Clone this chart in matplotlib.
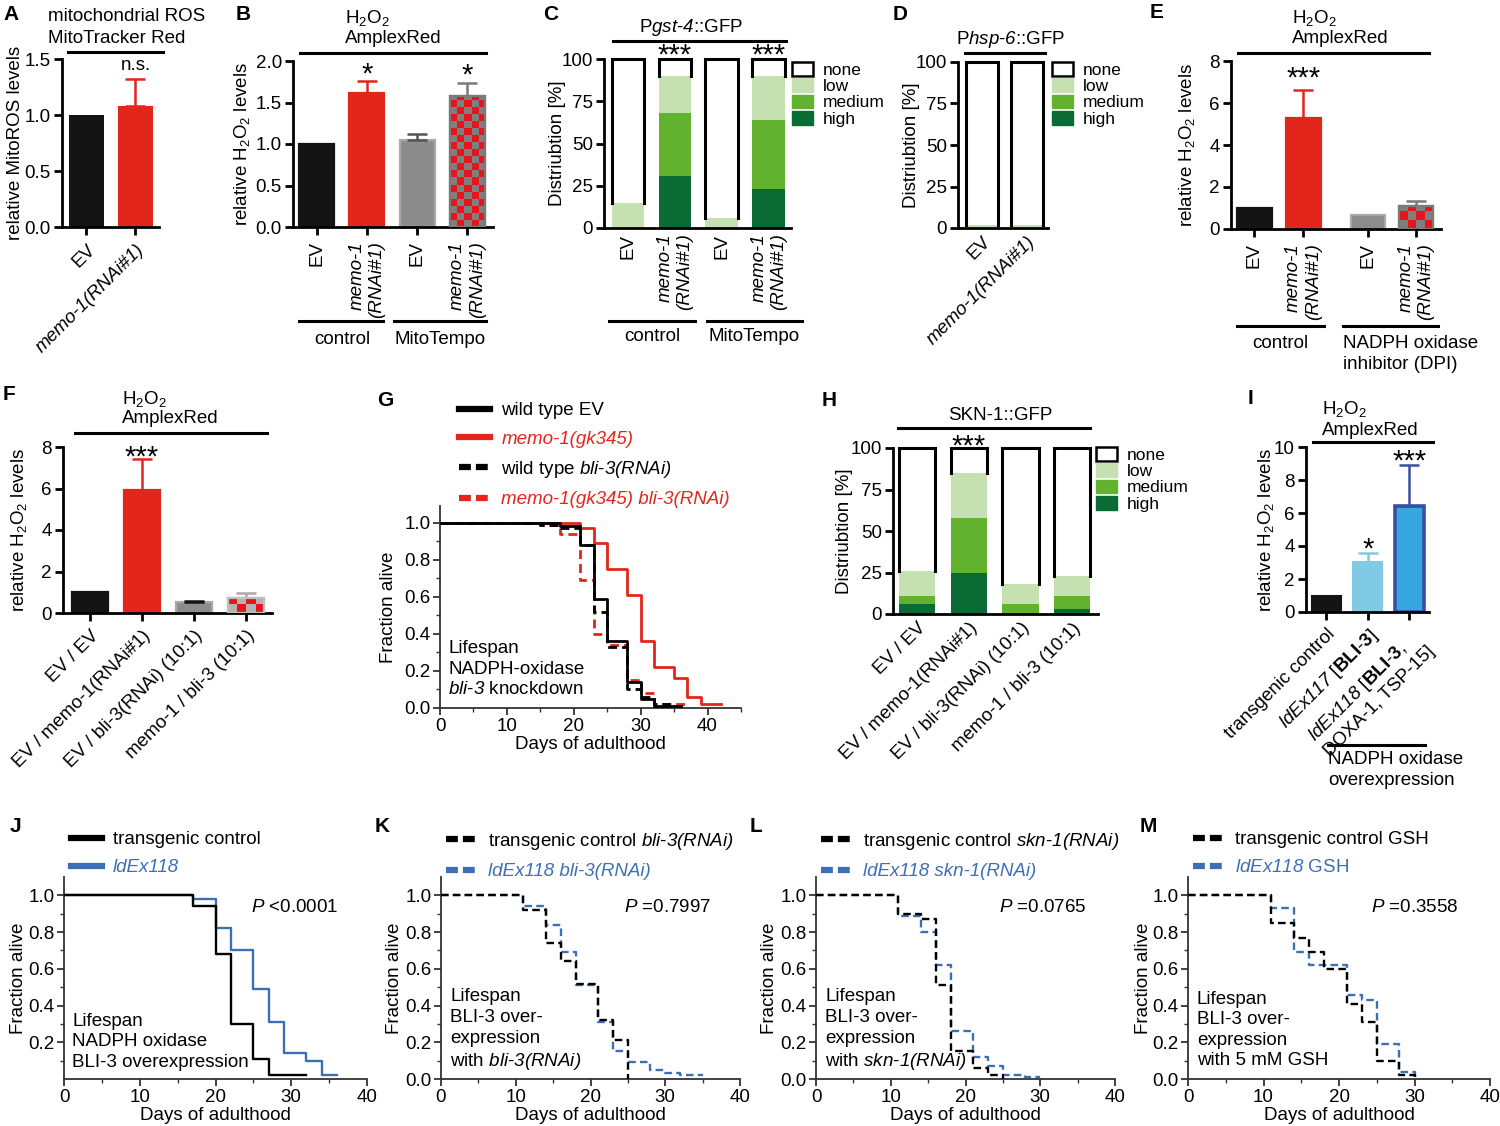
import matplotlib
matplotlib.use('Agg')
import matplotlib.pyplot as plt
import numpy as np
from matplotlib.colors import ListedColormap
from matplotlib.lines import Line2D
from matplotlib.patches import Patch

plt.rcParams['font.family'] = ['Liberation Sans', 'DejaVu Sans']
plt.rcParams['mathtext.fontset'] = 'custom'
plt.rcParams['mathtext.rm'] = 'Liberation Sans'
plt.rcParams['mathtext.it'] = 'Liberation Sans:italic'
plt.rcParams['mathtext.sf'] = 'Liberation Sans:italic'  # used for italic digits too
plt.rcParams['mathtext.bf'] = 'Liberation Sans:bold'
plt.rcParams['font.size'] = 13.5

W, H = 1500, 1126
RED = '#e2261b'
BLACK = '#141414'
GRAY = '#8c8c8c'
LOW, MED, HIGH = '#c5e0b1', '#62b22f', '#0b6b35'
BLUE = '#3d6fb6'
TICK = 13.5

# ---- data ----
# A
a_labels = ['EV', 'memo-1(RNAi#1)']
a_vals = [1.0, 1.08]
a_err = [0.0, 0.24]
# B
b_labels = ['EV', 'memo-1\n(RNAi#1)', 'EV', 'memo-1\n(RNAi#1)']
b_vals = [1.0, 1.62, 1.05, 1.58]
b_err = [0.0, 0.14, 0.07, 0.16]
b_sig = ['', '*', '', '*']
# C
c_labels = ['EV', 'memo-1\n(RNAi#1)', 'EV', 'memo-1\n(RNAi#1)']
c_high = [0, 31, 0, 23]
c_medium = [0, 37, 0, 41]
c_low = [15, 22, 6, 26]
c_sig = ['', '***', '', '***']
# D
d_labels = ['EV', 'memo-1(RNAi#1)']
d_high = [0, 0]
d_medium = [0, 0]
d_low = [2, 2]
# E
e_labels = ['EV', 'memo-1\n(RNAi#1)', 'EV', 'memo-1\n(RNAi#1)']
e_vals = [1.0, 5.3, 0.65, 1.1]
e_err = [0.0, 1.3, 0.0, 0.25]
e_sig = ['', '***', '', '']
# F
f_labels = ['EV / EV', 'EV / memo-1(RNAi#1)', 'EV / bli-3(RNAi) (10:1)', 'memo-1 / bli-3 (10:1)']
f_vals = [1.0, 5.95, 0.55, 0.72]
f_err = [0.0, 1.45, 0.02, 0.25]
f_sig = ['', '***', '', '']
# G
g_wt_days = [0, 18, 21, 23, 25, 28, 30, 32, 35]
g_wt_surv = [1.0, 0.98, 0.88, 0.59, 0.36, 0.14, 0.05, 0.01, 0.01]
g_memo_days = [0, 21, 23, 25, 28, 30, 32, 35, 37, 39, 42]
g_memo_surv = [1.0, 0.97, 0.89, 0.75, 0.61, 0.36, 0.22, 0.16, 0.06, 0.02, 0.02]
g_wtbli_days = [0, 15, 18, 21, 23, 25, 28, 30, 32, 35, 37]
g_wtbli_surv = [1.0, 0.99, 0.97, 0.88, 0.52, 0.33, 0.10, 0.06, 0.02, 0.01, 0.01]
g_memobli_days = [0, 15, 18, 21, 23, 25, 28, 30, 32, 37]
g_memobli_surv = [1.0, 0.99, 0.94, 0.69, 0.40, 0.34, 0.15, 0.08, 0.02, 0.02]
# H
h_labels = ['EV / EV', 'EV / memo-1(RNAi#1)', 'EV / bli-3(RNAi) (10:1)', 'memo-1 / bli-3 (10:1)']
h_high = [6, 25, 0, 3]
h_medium = [5, 33, 6, 8]
h_low = [15, 27, 12, 12]
h_sig = ['', '***', '', '']
# I
i_labels = ['transgenic control', r'$\mathsf{ldEx117}$ [$\mathbf{BLI}$-$\mathbf{3}$]',
            '$\\mathsf{ldEx118}$ [$\\mathbf{BLI}$-$\\mathbf{3}$,\nDOXA-1, TSP-15]']
i_vals = [1.0, 3.05, 6.45]
i_err = [0.0, 0.55, 2.45]
i_sig = ['', '*', '***']
# J
j_ctrl_days = [0, 17, 20, 22, 25, 27, 32]
j_ctrl_surv = [1.0, 0.94, 0.68, 0.30, 0.11, 0.02, 0.02]
j_ldex_days = [0, 17, 20, 22, 25, 27, 29, 32, 34, 36]
j_ldex_surv = [1.0, 0.98, 0.82, 0.70, 0.49, 0.31, 0.14, 0.10, 0.02, 0.02]
# K
k_ctrl_days = [0, 11, 14, 16, 18, 21, 23, 25]
k_ctrl_surv = [1.0, 0.92, 0.74, 0.64, 0.52, 0.32, 0.21, 0.0]
k_ldex_days = [0, 11, 14, 16, 18, 21, 23, 25, 28, 30, 32, 35]
k_ldex_surv = [1.0, 0.94, 0.84, 0.69, 0.51, 0.31, 0.15, 0.09, 0.05, 0.03, 0.02, 0.02]
# L
l_ctrl_days = [0, 11, 14, 16, 18, 21, 23, 25]
l_ctrl_surv = [1.0, 0.90, 0.87, 0.51, 0.15, 0.06, 0.02, 0.0]
l_ldex_days = [0, 11, 14, 16, 18, 21, 23, 25, 28, 30]
l_ldex_surv = [1.0, 0.89, 0.80, 0.62, 0.26, 0.12, 0.07, 0.02, 0.01, 0.01]
# M
m_ctrl_days = [0, 11, 14, 16, 18, 21, 23, 25, 28, 30]
m_ctrl_surv = [1.0, 0.85, 0.77, 0.69, 0.60, 0.41, 0.31, 0.10, 0.02, 0.0]
m_ldex_days = [0, 11, 14, 16, 21, 23, 25, 28, 30]
m_ldex_surv = [1.0, 0.93, 0.69, 0.62, 0.46, 0.43, 0.19, 0.04, 0.0]

fig = plt.figure(figsize=(15, 11.26), dpi=100)


def add_ax(l, t, r, b):
    ax = fig.add_axes([l / W, 1 - b / H, (r - l) / W, (b - t) / H])
    ax._px = (l, r)
    return ax


def ylab(ax, s, xc):
    # xc: horizontal centre of the rotated label in figure pixels
    l, r = ax._px
    ax.set_ylabel(s)
    ax.yaxis.set_label_coords((xc + 10 - l) / (r - l), 0.5)


def ftext(x, y, s, **kw):
    fig.text(x / W, 1 - y / H, s, **kw)


def fline(x0, x1, y, lw=2.2):
    fig.add_artist(Line2D([x0 / W, x1 / W], [1 - y / H, 1 - y / H], color='black', lw=lw))


def tline(x, y, s, ha='left', **kw):
    # y is the visual middle of capital letters
    ftext(x, y + 7, s, ha=ha, va='baseline', **kw)


def bar_style(ax, xlim, ylim, yticks, fmt, xtick_len=6):
    ax.set_xlim(*xlim)
    ax.set_ylim(*ylim)
    ax.set_yticks(yticks)
    ax.set_yticklabels([fmt.format(v) for v in yticks])
    for s in ['top', 'right']:
        ax.spines[s].set_visible(False)
    for s in ['left', 'bottom']:
        ax.spines[s].set_linewidth(2.0)
    ax.tick_params(axis='y', width=2.0, length=6, labelsize=TICK, pad=2)
    ax.tick_params(axis='x', width=2.0, length=xtick_len, labelsize=13.5, pad=4)


def checker(ax, bar, c1, c2, ncols, edge):
    x, y, w, h = bar.get_x(), bar.get_y(), bar.get_width(), bar.get_height()
    p0 = ax.transData.transform((x, y))
    p1 = ax.transData.transform((x + w, y + h))
    cell = (p1[0] - p0[0]) / ncols
    hpx = p1[1] - p0[1]
    nrows = int(np.ceil(hpx / cell))
    top = y + nrows * cell * h / hpx
    grid = np.indices((nrows, ncols)).sum(axis=0) % 2
    im = ax.imshow(grid, cmap=ListedColormap([c1, c2]), extent=(x, x + w, y, top), origin='lower',
                   aspect='auto', interpolation='nearest', zorder=2)
    im.set_clip_path(bar)
    ax.bar(x + w / 2, h, w, bottom=y, fill=False, edgecolor=edge, lw=1.6, zorder=3)


def err_bars(ax, pos, vals, errs, colors):
    for x, v, e, c in zip(pos, vals, errs, colors):
        if e > 0:
            ax.errorbar(x, v, yerr=[[0], [e]], fmt='none', ecolor=c, elinewidth=1.8, capsize=7,
                        capthick=1.8, zorder=1.5)


def sig(ax, pos, tops, marks, off):
    for x, t, m in zip(pos, tops, marks):
        if m:
            ax.annotate(m, (x, t), xytext=(0, off), textcoords='offset points', ha='center',
                        va='baseline', fontsize=21, annotation_clip=False)


def stacked(ax, pos, high, medium, low):
    high, medium, low = np.array(high), np.array(medium), np.array(low)
    b2 = high + medium
    b3 = b2 + low
    ax.bar(pos, high, 0.7, color=HIGH)
    ax.bar(pos, medium, 0.7, bottom=high, color=MED)
    ax.bar(pos, low, 0.7, bottom=b2, color=LOW)
    nb = ax.bar(pos, 100 - b3, 0.7, bottom=b3, color='white')
    for p in nb:
        x0, x1 = p.get_x(), p.get_x() + p.get_width()
        y0, y1 = p.get_y(), p.get_y() + p.get_height()
        ax.plot([x0, x0, x1, x1], [y0, y1, y1, y0], color='black', lw=2.2, clip_on=False,
                solid_joinstyle='miter')


def rot90_labels(ax, pos, labels):
    ax.set_xticks(pos)
    ax.set_xticklabels(labels, rotation=90, ha='center', va='top', multialignment='right')
    for t in ax.get_xticklabels():
        if 'memo' in t.get_text():
            t.set_fontstyle('italic')


def rot45_labels(ax, pos, labels, italic=True):
    ax.set_xticks(pos)
    ax.set_xticklabels(labels, rotation=45, ha='right', va='top', rotation_mode='anchor',
                       multialignment='left')
    if italic:
        for t in ax.get_xticklabels():
            if 'memo' in t.get_text():
                t.set_fontstyle('italic')


def dist_legend(x, y):
    handles = [Patch(facecolor='white', edgecolor='black', lw=1.8), Patch(color=LOW),
               Patch(color=MED), Patch(color=HIGH)]
    fig.legend(handles, ['none', 'low', 'medium', 'high'], loc='upper left',
               bbox_to_anchor=(x / W, 1 - y / H), frameon=False, fontsize=12.5, handlelength=1.2,
               handleheight=0.85, handletextpad=0.55, labelspacing=0.02, borderpad=0, borderaxespad=0)


def letter(x, y, s):
    ftext(x, y, s, fontsize=15, fontweight='bold', va='center', ha='left')


# ---------------- A ----------------
ax = add_ax(62, 59, 159, 227)
pos = np.arange(len(a_vals))
ax.bar(pos, a_vals, 0.7, color=[BLACK, RED])
err_bars(ax, pos, a_vals, a_err, [BLACK, RED])
bar_style(ax, (-0.5, 1.48), (0, 1.5), [0, 0.5, 1.0, 1.5], '{:.1f}')
rot45_labels(ax, pos, a_labels)
ax.annotate('n.s.', (1, a_vals[1] + a_err[1]), xytext=(0, 4), textcoords='offset points',
            ha='center', va='bottom', fontsize=13.5)
ylab(ax, 'relative MitoROS levels', 14)
letter(3, 14, 'A')
tline(48, 14, 'mitochondrial ROS')
tline(48, 36, 'MitoTracker Red')
fline(68, 163, 52)

# ---------------- B ----------------
ax = add_ax(293, 61, 493, 227)
pos = np.arange(len(b_vals))
bars = ax.bar(pos, b_vals, 0.7, color=[BLACK, RED, GRAY, GRAY],
              edgecolor=[BLACK, RED, '#a9a9a9', '#7a7a7a'], lw=1.6)
bar_style(ax, (-0.47, 3.51), (0, 2.0), [0, 0.5, 1.0, 1.5, 2.0], '{:.1f}')
checker(ax, bars[3], '#7f7f7f', '#e8141c', 5, '#7a7a7a')
ax.set_xlim(-0.47, 3.51)
ax.set_ylim(0, 2.0)
err_bars(ax, pos, b_vals, b_err, [BLACK, RED, '#555555', '#7a7a7a'])
sig(ax, pos, np.add(b_vals, b_err), b_sig, off=-1)
rot90_labels(ax, pos, b_labels)
ylab(ax, 'relative H$_2$O$_2$ levels', 242)
letter(236, 14, 'B')
tline(345, 16, 'H$_2$O$_2$')
tline(345, 36, 'AmplexRed')
fline(300, 486, 53)
fline(299, 383, 321)
fline(394, 486, 321)
tline(342, 337, 'control', ha='center')
tline(440, 337, 'MitoTempo', ha='center')

# ---------------- C ----------------
ax = add_ax(604, 59, 791, 228)
pos = np.arange(len(c_low))
stacked(ax, pos, c_high, c_medium, c_low)
bar_style(ax, (-0.51, 3.47), (0, 100), [0, 25, 50, 75, 100], '{:d}', xtick_len=0)
ax.set_ylim(0, 100)
sig(ax, pos, [100] * len(pos), c_sig, off=-3)
rot90_labels(ax, pos, c_labels)
ylab(ax, 'Distriubtion [%]', 556)
dist_legend(792, 62)
letter(543, 14, 'C')
tline(691, 25, 'P$\\mathsf{gst}$-$\\mathsf{4}$::GFP', ha='center')
fline(613, 786, 41)
fline(609, 695, 321)
fline(707, 802, 321)
tline(652, 334, 'control', ha='center')
tline(754, 334, 'MitoTempo', ha='center')

# ---------------- D ----------------
ax = add_ax(958, 62, 1048, 228)
pos = np.arange(len(d_low))
stacked(ax, pos, d_high, d_medium, d_low)
bar_style(ax, (-0.53, 1.47), (0, 100), [0, 25, 50, 75, 100], '{:d}', xtick_len=0)
rot45_labels(ax, pos, d_labels)
ylab(ax, 'Distriubtion [%]', 910)
dist_legend(1052, 62)
letter(893, 14, 'D')
tline(1011, 37, 'P$\\mathsf{hsp}$-$\\mathsf{6}$::GFP', ha='center')
fline(965, 1045, 53)

# ---------------- E ----------------
ax = add_ax(1231, 61, 1441, 229)
pos = np.array([0, 1, 2.32, 3.3])
bars = ax.bar(pos, e_vals, 0.7, color=[BLACK, RED, GRAY, GRAY],
              edgecolor=[BLACK, RED, '#a9a9a9', '#7a7a7a'], lw=1.6)
bar_style(ax, (-0.48, 3.81), (0, 8), [0, 2, 4, 6, 8], '{:d}')
checker(ax, bars[3], '#7f7f7f', '#e8141c', 4, '#7a7a7a')
ax.set_xlim(-0.48, 3.81)
ax.set_ylim(0, 8)
err_bars(ax, pos, e_vals, e_err, [BLACK, RED, '#555555', '#7a7a7a'])
sig(ax, pos, np.add(e_vals, e_err), e_sig, off=3)
rot90_labels(ax, pos, e_labels)
ylab(ax, 'relative H$_2$O$_2$ levels', 1187)
letter(1150, 13, 'E')
tline(1292, 16, 'H$_2$O$_2$')
tline(1292, 36, 'AmplexRed')
fline(1238, 1429, 53)
fline(1237, 1324, 326)
fline(1343, 1438, 326)
tline(1280, 341, 'control', ha='center')
tline(1343, 341, 'NADPH oxidase')
tline(1343, 362, 'inhibitor (DPI)')

# ---------------- F ----------------
ax = add_ax(63, 447, 272, 613)
pos = np.arange(len(f_vals))
bars = ax.bar(pos, f_vals, 0.7, color=[BLACK, RED, GRAY, '#b3b3b3'],
              edgecolor=[BLACK, RED, '#a9a9a9', '#c0c0c0'], lw=1.6)
bar_style(ax, (-0.52, 3.5), (0, 8), [0, 2, 4, 6, 8], '{:d}')
checker(ax, bars[3], '#b3b3b3', '#e8141c', 4, '#c0c0c0')
ax.set_xlim(-0.52, 3.5)
ax.set_ylim(0, 8)
err_bars(ax, pos, f_vals, f_err, [BLACK, RED, BLACK, '#a9a9a9'])
sig(ax, pos, np.add(f_vals, f_err), f_sig, off=-4.5)
rot45_labels(ax, pos, f_labels, italic=False)
ylab(ax, 'relative H$_2$O$_2$ levels', 19)
letter(3, 395, 'F')
tline(122, 397, 'H$_2$O$_2$')
tline(122, 416, 'AmplexRed')
fline(75, 267, 433)


# ---------------- survival helpers ----------------
def surv_style(ax, xmax, ytop, yticks, ylab_x):
    ax.set_xlim(0, xmax)
    ax.set_ylim(0, ytop)
    ax.set_xticks(np.arange(0, xmax + 1, 10))
    ax.set_xticks(np.arange(5, xmax, 10), minor=True)
    ax.set_yticks(yticks)
    ax.set_yticklabels(['{:.1f}'.format(v) for v in yticks])
    ax.set_yticks(np.arange(0.1, 1.05, 0.2), minor=True)
    for s in ['top', 'right']:
        ax.spines[s].set_visible(False)
    for s in ['left', 'bottom']:
        ax.spines[s].set_linewidth(1.3)
        ax.spines[s].set_color('#333333')
    ax.tick_params(which='major', width=1.3, length=5, labelsize=TICK, pad=2, color='#333333')
    ax.tick_params(which='minor', width=1.0, length=3, color='#333333')
    ax.set_xlabel('Days of adulthood', labelpad=1)
    ylab(ax, 'Fraction alive', ylab_x)


DASH = (0, (3.2, 1.8))
LDASH = (0, (1.9, 0.8))


def surv_legend(x, y, labels, colors, styles, italic):
    handles = [Line2D([], [], color=c, lw=4.5, ls=s) for c, s in zip(colors, styles)]
    leg = fig.legend(handles, labels, loc='upper left', bbox_to_anchor=(x / W, 1 - y / H),
                     frameon=False, fontsize=13.5, handlelength=1.65, handletextpad=0.6,
                     labelspacing=0.6, borderpad=0, borderaxespad=0)
    for t, c, it in zip(leg.get_texts(), colors, italic):
        t.set_color(c)
        if it:
            t.set_fontstyle('italic')


# ---------------- G ----------------
ax = add_ax(440, 506, 741, 708)
ax.step(g_wt_days, g_wt_surv, where='post', color='black', lw=2.0, zorder=3)
ax.step(g_memo_days, g_memo_surv, where='post', color=RED, lw=2.0, zorder=2)
ax.step(g_wtbli_days, g_wtbli_surv, where='post', color='black', lw=2.0, ls=DASH, zorder=4)
ax.step(g_memobli_days, g_memobli_surv, where='post', color=RED, lw=2.0, ls=DASH, zorder=2)
surv_style(ax, 45, 1.09, [0, 0.2, 0.4, 0.6, 0.8, 1.0], 387)
ax.set_xticks([0, 10, 20, 30, 40])
ax.set_xticks([5, 15, 25, 35, 45], minor=True)
surv_legend(459, 402, ['wild type EV', 'memo-1(gk345)',
                       'wild type $\\mathsf{bli}$-$\\mathsf{3(RNAi)}$', 'memo-1(gk345) bli-3(RNAi)'],
            ['black', RED, 'black', RED], ['-', '-', LDASH, LDASH], [False, True, False, True])
ftext(448, 669, 'Lifespan\nNADPH-oxidase\n$\\mathsf{bli}$-$\\mathsf{3}$ knockdown', ha='left',
      va='center', linespacing=1.28)
letter(377, 401, 'G')

# ---------------- H ----------------
ax = add_ax(893, 448, 1098, 614)
pos = np.arange(len(h_low))
stacked(ax, pos, h_high, h_medium, h_low)
bar_style(ax, (-0.47, 3.5), (0, 100), [0, 25, 50, 75, 100], '{:d}', xtick_len=0)
sig(ax, pos, [100] * len(pos), h_sig, off=-4.5)
rot45_labels(ax, pos, h_labels, italic=False)
ylab(ax, 'Distriubtion [%]', 843)
dist_legend(1096, 447)
letter(822, 401, 'H')
tline(1000, 413, 'SKN-1::GFP', ha='center')
fline(898, 1090, 428)

# ---------------- I ----------------
ax = add_ax(1306, 447, 1429, 612)
pos = np.arange(len(i_vals))
ax.bar(pos, i_vals, 0.7, color=[BLACK, '#80cbe3', '#36a8e0'],
       edgecolor=[BLACK, '#80cbe3', '#3a4fa2'], lw=[1.5, 1.5, 2.6])
bar_style(ax, (-0.49, 2.47), (0, 10), [0, 2, 4, 6, 8, 10], '{:d}')
err_bars(ax, pos, i_vals, i_err, [BLACK, '#80cbe3', '#3a4fa2'])
sig(ax, pos, np.add(i_vals, i_err), i_sig, off=-3.5)
rot45_labels(ax, pos, i_labels, italic=False)
ylab(ax, 'relative H$_2$O$_2$ levels', 1266)
letter(1248, 398, 'I')
tline(1322, 407, 'H$_2$O$_2$')
tline(1322, 428, 'AmplexRed')
fline(1313, 1433, 442)
fline(1328, 1425, 745)
tline(1328, 757, 'NADPH oxidase')
tline(1328, 778, 'overexpression')

# ---------------- J ----------------
ax = add_ax(64, 877, 367, 1079)
ax.step(j_ctrl_days, j_ctrl_surv, where='post', color='black', lw=1.7, zorder=3)
ax.step(j_ldex_days, j_ldex_surv, where='post', color=BLUE, lw=1.7, zorder=2)
surv_style(ax, 40, 1.1, [0.2, 0.4, 0.6, 0.8, 1.0], 17)
surv_legend(71, 831, ['transgenic control', 'ldEx118'], ['black', BLUE], ['-', '-'], [False, True])
ftext(251, 908, '$\\mathsf{P}$ <0.0001', ha='left', va='center')
ftext(72, 1042, 'Lifespan\nNADPH oxidase\nBLI-3 overexpression', ha='left', va='center',
      linespacing=1.28)
letter(10, 826, 'J')

# ---------------- K, L, M ----------------
panels = [
    ('K', 441, 740, 375, 393, k_ctrl_days, k_ctrl_surv, k_ldex_days, k_ldex_surv,
     ['transgenic control $\\mathsf{bli}$-$\\mathsf{3(RNAi)}$', 'ldEx118 bli-3(RNAi)'], [False, True],
     '$\\mathsf{P}$ =0.7997', 'Lifespan\nBLI-3 over-\nexpression\nwith $\\mathsf{bli}$-$\\mathsf{3(RNAi)}$'),
    ('L', 816, 1115, 750, 768, l_ctrl_days, l_ctrl_surv, l_ldex_days, l_ldex_surv,
     ['transgenic control $\\mathsf{skn}$-$\\mathsf{1(RNAi)}$', 'ldEx118 skn-1(RNAi)'], [False, True],
     '$\\mathsf{P}$ =0.0765', 'Lifespan\nBLI-3 over-\nexpression\nwith $\\mathsf{skn}$-$\\mathsf{1(RNAi)}$'),
    ('M', 1188, 1490, 1140, 1142, m_ctrl_days, m_ctrl_surv, m_ldex_days, m_ldex_surv,
     ['transgenic control GSH', '$\\mathsf{ldEx118}$ GSH'], [False, False],
     '$\\mathsf{P}$ =0.3558', 'Lifespan\nBLI-3 over-\nexpression\nwith 5 mM GSH'),
]
for (lt, l, r, lx, yx, cd, cs, bd, bs, labs, its, ptxt, note) in panels:
    ax = add_ax(l, 877, r, 1079)
    ax.step(bd, bs, where='post', color=BLUE, lw=1.7, ls=DASH, zorder=2)
    ax.step(cd, cs, where='post', color='black', lw=1.7, ls=DASH, zorder=3)
    surv_style(ax, 40, 1.1, [0, 0.2, 0.4, 0.6, 0.8, 1.0], yx)
    surv_legend(l + 5, 831, labs, ['black', BLUE], [LDASH, LDASH], its)
    ftext(l + 183, 908, ptxt, ha='left', va='center')
    ftext(l + 9, 1030, note, ha='left', va='center', linespacing=1.28)
    letter(lx, 826, lt)

fig.savefig('out.png', dpi=100)
